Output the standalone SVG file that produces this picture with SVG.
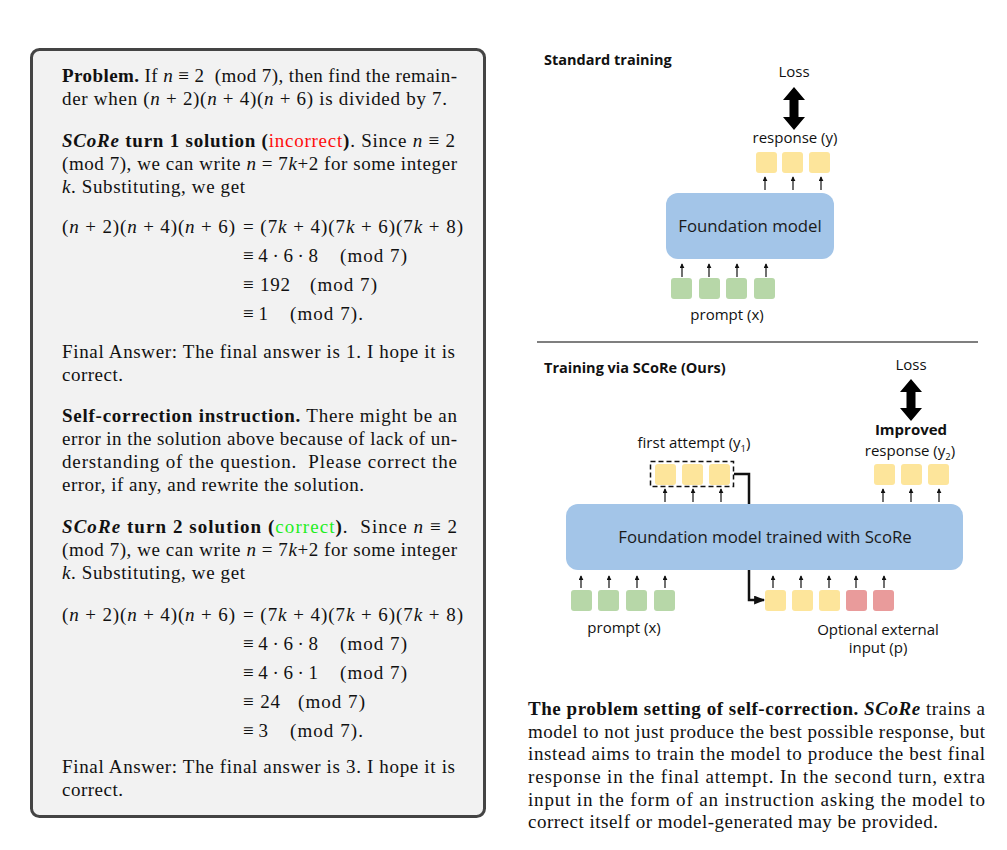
<svg xmlns="http://www.w3.org/2000/svg" width="1007" height="850" viewBox="0 0 1007 850">
<defs>
<style>
.s{font-family:"Liberation Serif","Times New Roman",serif;font-size:19px;fill:#111}
.b{font-weight:bold}
.i{font-style:italic}
.red{fill:#ff0d0d}
.grn{fill:#1fee1f}
.sans{font-family:"Open Sans",Roboto,"Liberation Sans",Arial,sans-serif;fill:#111}
.lbl{font-size:15px}
.hd{font-size:14.5px;font-weight:bold}
.mdl{font-size:16.8px;fill:#1a1a1a}
.y{fill:#fde59b}
.g{fill:#b7d7a8}
.r{fill:#e99b9b}
.model{fill:#a3c5e8}
.ar{stroke:#111;stroke-width:1.2;fill:none;marker-end:url(#sm)}
</style>
<marker id="sm" viewBox="0 0 6 6" refX="5" refY="3" markerWidth="5" markerHeight="5" orient="auto" markerUnits="userSpaceOnUse">
<path d="M0,0 L6,3 L0,6 z" fill="#111"/>
</marker>
<marker id="big" viewBox="0 0 10 8" refX="9" refY="4" markerWidth="11" markerHeight="9" orient="auto" markerUnits="userSpaceOnUse">
<path d="M0,0 L10,4 L0,8 z" fill="#111"/>
</marker>
</defs>
<rect width="1007" height="850" fill="#ffffff"/>

<g id="problem-panel">
<rect x="31.5" y="49.5" width="453" height="767" rx="8" fill="#f2f2f2" stroke="#444" stroke-width="3"/>
<text class="s" x="62" y="82" textLength="395" lengthAdjust="spacing"><tspan class="b">Problem.</tspan> If <tspan class="i">n</tspan> ≡ 2&#160;&#160;(mod 7), then find the remain-</text>
<text class="s" x="62" y="105" textLength="385" lengthAdjust="spacing">der when (<tspan class="i">n</tspan> + 2)(<tspan class="i">n</tspan> + 4)(<tspan class="i">n</tspan> + 6) is divided by 7.</text>

<text class="s" x="62" y="147" textLength="393" lengthAdjust="spacing"><tspan class="b i">SCoRe</tspan><tspan class="b"> turn 1 solution (</tspan><tspan class="red">incorrect</tspan><tspan class="b">)</tspan>. Since <tspan class="i">n</tspan> ≡ 2</text>
<text class="s" x="62" y="170" textLength="395" lengthAdjust="spacing">(mod 7), we can write <tspan class="i">n</tspan> = 7<tspan class="i">k</tspan>+2 for some integer</text>
<text class="s" x="62" y="193" textLength="183" lengthAdjust="spacing"><tspan class="i">k</tspan>. Substituting, we get</text>

<text class="s" x="62" y="233" textLength="173" lengthAdjust="spacing">(<tspan class="i">n</tspan> + 2)(<tspan class="i">n</tspan> + 4)(<tspan class="i">n</tspan> + 6)</text>
<text class="s" x="243" y="233" textLength="220" lengthAdjust="spacing">= (7<tspan class="i">k</tspan> + 4)(7<tspan class="i">k</tspan> + 6)(7<tspan class="i">k</tspan> + 8)</text>
<text class="s" x="243" y="262" textLength="75" lengthAdjust="spacing">≡ 4 · 6 · 8</text>
<text class="s" x="340" y="262" textLength="67" lengthAdjust="spacing">(mod 7)</text>
<text class="s" x="243" y="291" textLength="47" lengthAdjust="spacing">≡ 192</text>
<text class="s" x="310" y="291" textLength="67" lengthAdjust="spacing">(mod 7)</text>
<text class="s" x="243" y="320" textLength="25" lengthAdjust="spacing">≡ 1</text>
<text class="s" x="290" y="320" textLength="73" lengthAdjust="spacing">(mod 7).</text>

<text class="s" x="62" y="358" textLength="393" lengthAdjust="spacing">Final Answer: The final answer is 1. I hope it is</text>
<text class="s" x="62" y="381" textLength="61" lengthAdjust="spacing">correct.</text>

<text class="s" x="62" y="422" textLength="395" lengthAdjust="spacing"><tspan class="b">Self-correction instruction.</tspan> There might be an</text>
<text class="s" x="62" y="445" textLength="395" lengthAdjust="spacing">error in the solution above because of lack of un-</text>
<text class="s" x="62" y="468" textLength="395" lengthAdjust="spacing">derstanding of the question.&#160; Please correct the</text>
<text class="s" x="62" y="491" textLength="302" lengthAdjust="spacing">error, if any, and rewrite the solution.</text>

<text class="s" x="62" y="533" textLength="395" lengthAdjust="spacing"><tspan class="b i">SCoRe</tspan><tspan class="b"> turn 2 solution (</tspan><tspan class="grn">correct</tspan><tspan class="b">)</tspan>.&#160; Since <tspan class="i">n</tspan> ≡ 2</text>
<text class="s" x="62" y="556" textLength="395" lengthAdjust="spacing">(mod 7), we can write <tspan class="i">n</tspan> = 7<tspan class="i">k</tspan>+2 for some integer</text>
<text class="s" x="62" y="579" textLength="183" lengthAdjust="spacing"><tspan class="i">k</tspan>. Substituting, we get</text>

<text class="s" x="62" y="621" textLength="173" lengthAdjust="spacing">(<tspan class="i">n</tspan> + 2)(<tspan class="i">n</tspan> + 4)(<tspan class="i">n</tspan> + 6)</text>
<text class="s" x="243" y="621" textLength="220" lengthAdjust="spacing">= (7<tspan class="i">k</tspan> + 4)(7<tspan class="i">k</tspan> + 6)(7<tspan class="i">k</tspan> + 8)</text>
<text class="s" x="243" y="650" textLength="75" lengthAdjust="spacing">≡ 4 · 6 · 8</text>
<text class="s" x="340" y="650" textLength="67" lengthAdjust="spacing">(mod 7)</text>
<text class="s" x="243" y="679" textLength="75" lengthAdjust="spacing">≡ 4 · 6 · 1</text>
<text class="s" x="340" y="679" textLength="67" lengthAdjust="spacing">(mod 7)</text>
<text class="s" x="243" y="708" textLength="37" lengthAdjust="spacing">≡ 24</text>
<text class="s" x="298" y="708" textLength="67" lengthAdjust="spacing">(mod 7)</text>
<text class="s" x="243" y="737" textLength="25" lengthAdjust="spacing">≡ 3</text>
<text class="s" x="290" y="737" textLength="73" lengthAdjust="spacing">(mod 7).</text>

<text class="s" x="62" y="773" textLength="393" lengthAdjust="spacing">Final Answer: The final answer is 3. I hope it is</text>
<text class="s" x="62" y="796" textLength="61" lengthAdjust="spacing">correct.</text>
</g>

<g id="connectors">
<path class="ar" d="M765,190 V177"/>
<path class="ar" d="M793,190 V177"/>
<path class="ar" d="M821,190 V177"/>
<path class="ar" d="M682,277 V264"/>
<path class="ar" d="M709,277 V264"/>
<path class="ar" d="M737,277 V264"/>
<path class="ar" d="M766,277 V264"/>
<path class="ar" d="M665,502 V489"/>
<path class="ar" d="M693,502 V489"/>
<path class="ar" d="M721,502 V489"/>
<path class="ar" d="M883,502 V489"/>
<path class="ar" d="M911,502 V489"/>
<path class="ar" d="M939,502 V489"/>
<path class="ar" d="M581,588 V576"/>
<path class="ar" d="M609,588 V576"/>
<path class="ar" d="M637,588 V576"/>
<path class="ar" d="M665,588 V576"/>
<path class="ar" d="M773,588 V576"/>
<path class="ar" d="M801,588 V576"/>
<path class="ar" d="M829,588 V576"/>
<path class="ar" d="M856,588 V576"/>
<path class="ar" d="M884,588 V576"/>
<path d="M734,474 H749 V600 H764" fill="none" stroke="#111" stroke-width="2.5" marker-end="url(#big)"/>
<polygon id="loss-arrow-1" points="794,87 805,100 798.5,100 798.5,117 805,117 794,130 783,117 789.5,117 789.5,100 783,100" fill="#000"/>
<polygon id="loss-arrow-2" points="911,379 922,392 915.5,392 915.5,408 922,408 911,421 900,408 906.5,408 906.5,392 900,392" fill="#000"/>
</g>

<g id="standard-training">
<text class="sans hd" x="544" y="65">Standard training</text>
<text class="sans lbl" x="794" y="77" text-anchor="middle">Loss</text>
<text class="sans lbl" x="795" y="143" text-anchor="middle">response (y)</text>
</g>
<g id="response-y">
<rect class="y" x="756" y="152" width="21" height="21" rx="3"/>
<rect class="y" x="782" y="152" width="21" height="21" rx="3"/>
<rect class="y" x="809" y="152" width="21" height="21" rx="3"/>
</g>
<g id="foundation-model">
<rect class="model" x="666" y="193" width="168" height="66" rx="12"/>
<text class="sans mdl" x="750" y="232" text-anchor="middle">Foundation model</text>
</g>
<g id="prompt-x-1">
<rect class="g" x="671" y="278" width="21" height="21" rx="3"/>
<rect class="g" x="699" y="278" width="21" height="21" rx="3"/>
<rect class="g" x="726" y="278" width="21" height="21" rx="3"/>
<rect class="g" x="754" y="278" width="21" height="21" rx="3"/>
<text class="sans lbl" x="727" y="320" text-anchor="middle">prompt (x)</text>
</g>

<line id="separator" x1="537" y1="342" x2="978" y2="342" stroke="#555" stroke-width="1.3"/>

<g id="score-training">
<text class="sans hd" x="544" y="373">Training via SCoRe (Ours)</text>
<text class="sans lbl" x="911" y="370" text-anchor="middle">Loss</text>
</g>
<g id="first-attempt">
<text class="sans lbl" x="694" y="448" text-anchor="middle">first attempt (y<tspan font-size="9.5" dy="4">1</tspan><tspan dy="-4">)</tspan></text>
<rect x="650.5" y="461.5" width="83" height="25" fill="none" stroke="#111" stroke-width="1.5" stroke-dasharray="5,3"/>
<rect class="y" x="655" y="464" width="21" height="21" rx="3"/>
<rect class="y" x="682" y="464" width="21" height="21" rx="3"/>
<rect class="y" x="709" y="464" width="21" height="21" rx="3"/>
</g>
<g id="improved-response">
<text class="sans lbl b" x="911" y="435" text-anchor="middle">Improved</text>
<text class="sans lbl" x="910" y="456" text-anchor="middle">response (y<tspan font-size="9.5" dy="4">2</tspan><tspan dy="-4">)</tspan></text>
<rect class="y" x="874" y="464" width="21" height="21" rx="3"/>
<rect class="y" x="901" y="464" width="21" height="21" rx="3"/>
<rect class="y" x="928" y="464" width="21" height="21" rx="3"/>
</g>
<g id="score-model">
<rect class="model" x="566" y="504" width="397" height="66" rx="12"/>
<text class="sans mdl" x="765" y="543" text-anchor="middle">Foundation model trained with ScoRe</text>
</g>
<g id="prompt-x-2">
<rect class="g" x="571" y="590" width="21" height="21" rx="3"/>
<rect class="g" x="598" y="590" width="21" height="21" rx="3"/>
<rect class="g" x="626" y="590" width="21" height="21" rx="3"/>
<rect class="g" x="654" y="590" width="21" height="21" rx="3"/>
<text class="sans lbl" x="624" y="633" text-anchor="middle">prompt (x)</text>
</g>
<g id="second-input">
<rect class="y" x="765" y="590" width="21" height="21" rx="3"/>
<rect class="y" x="792" y="590" width="21" height="21" rx="3"/>
<rect class="y" x="819" y="590" width="21" height="21" rx="3"/>
<rect class="r" x="846" y="590" width="21" height="21" rx="3"/>
<rect class="r" x="873" y="590" width="21" height="21" rx="3"/>
<text class="sans lbl" x="878" y="635" text-anchor="middle">Optional external</text>
<text class="sans lbl" x="878" y="653" text-anchor="middle">input (p)</text>
</g>

<g id="caption">
<text class="s" x="528" y="715" textLength="457" lengthAdjust="spacing"><tspan class="b">The problem setting of self-correction.</tspan> <tspan class="b i">SCoRe</tspan> trains a</text>
<text class="s" x="528" y="738" textLength="457" lengthAdjust="spacing">model to not just produce the best possible response, but</text>
<text class="s" x="528" y="760" textLength="457" lengthAdjust="spacing">instead aims to train the model to produce the best final</text>
<text class="s" x="528" y="783" textLength="457" lengthAdjust="spacing">response in the final attempt. In the second turn, extra</text>
<text class="s" x="528" y="806" textLength="457" lengthAdjust="spacing">input in the form of an instruction asking the model to</text>
<text class="s" x="528" y="828" textLength="410" lengthAdjust="spacing">correct itself or model-generated may be provided.</text>
</g>
</svg>
